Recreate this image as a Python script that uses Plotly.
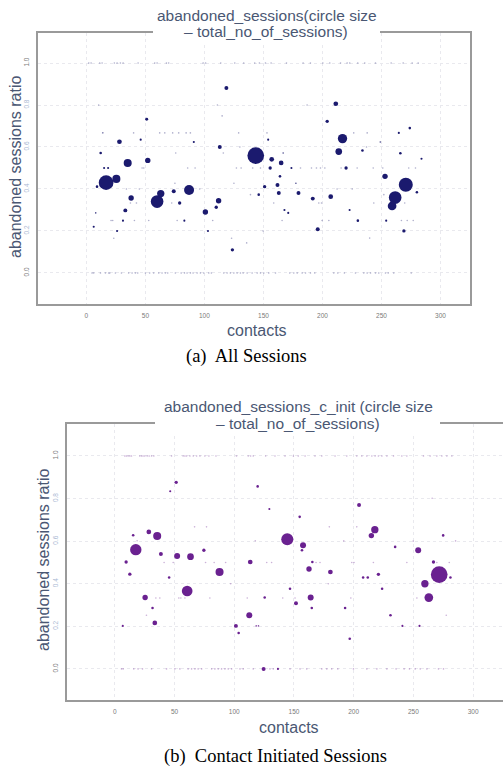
import plotly.graph_objects as go

W, H = 503, 768

# ---------------- (a) All Sessions ----------------
a_contacts = [118.6, 51.1, 28, 12.1, 35, 52, 15, 18.4, 16.7, 25.4, 9, 37.9, 33, 7.9, 6.2, 26, 23.2,
              59.9, 63, 74, 79, 87, 100.8, 103, 112, 110, 113, 123.7, 135.8, 123, 143.5, 157, 155.7,
              151, 146, 139, 83, 31, 46, 91, 154, 125, 75, 211.3, 204, 217, 213.8, 220, 233.9, 249,
              274, 264.7, 266, 283.9, 253, 270.6, 261.6, 259, 280, 269, 252, 254, 230, 240, 223, 207,
              196, 191.8, 179.7, 177.5, 163, 161.9, 164, 165, 173.7, 167.8, 171, 166.7, 187, 14, 10.4,
              75.7, 116, 115, 111]
a_ratio = [0.881, 0.732, 0.625, 0.571, 0.524, 0.536, 0.5, 0.5, 0.43, 0.448, 0.411, 0.357, 0.298, 0.286,
           0.22, 0.2, 0.165, 0.34, 0.378, 0.389, 0.333, 0.395, 0.29, 0.2, 0.344, 0.313, 0.6, 0.11, 0.143,
           0.165, 0.559, 0.541, 0.5, 0.411, 0.373, 0.373, 0.249, 0.249, 0.635, 0.624, 0.635, 0.427, 0.427,
           0.806, 0.722, 0.64, 0.578, 0.5, 0.583, 0.624, 0.69, 0.667, 0.57, 0.544, 0.46, 0.42, 0.359,
           0.319, 0.384, 0.2, 0.373, 0.249, 0.249, 0.166, 0.3, 0.363, 0.208, 0.354, 0.381, 0.427, 0.381,
           0.419, 0.46, 0.524, 0.5, 0.3, 0.286, 0.571, 0.8, 0.668, 0.8, 0.571, 0.571, 0.748, 0.8]
a_sessions = [14, 8, 20, 6, 58, 26, 4, 4, 194, 58, 6, 26, 14, 2, 4, 4, 1,
              144, 48, 14, 10, 90, 26, 4, 26, 10, 14, 10, 1, 1, 250, 20, 10,
              10, 6, 1, 4, 4, 4, 4, 4, 1, 1, 20, 10, 78, 40, 10, 6, 2,
              6, 4, 6, 4, 26, 176, 144, 68, 6, 10, 1, 4, 6, 1, 4, 20,
              14, 14, 14, 2, 14, 14, 6, 20, 4, 4, 4, 2, 1, 1, 1,
              1, 1, 1, 1]

# single-session contacts, grouped by their ratio
a_single_r100 = [2, 4, 11.3, 13.3, 23.7, 26, 28.8, 31.1, 43.8, 57.9, 59.9, 67.8, 69.7, 98.9, 101, 113.8,
                 125.7, 133.3, 142.6, 146.6, 151.7, 156.5, 169.5, 183.6, 189.8, 200.3, 206.2, 215.3,
                 220.9, 223.1, 229.9, 235.8, 244.9, 258.2, 268.4, 276, 281.1]
a_single_r000 = [4.8, 6.2, 11.9, 16.1, 18.9, 19.8, 24.6, 29.7, 35.8, 38.7, 41.5, 43.5, 50, 53.6, 57, 61.3,
                 64.1, 66.9, 68.9, 75.4, 80.3, 83.1, 85.3, 88.1, 90.4, 93.8, 96.6, 99.4, 103.7, 105.9,
                 116.4, 119.2, 122, 124.9, 127.7, 130.5, 132.8, 136.2, 140.4, 144.7, 147.5, 150.3, 154.5,
                 160.2, 172.3, 175.7, 178.6, 182.8, 185.6, 189.8, 193.5, 209.6, 213, 218.6, 228, 235,
                 237.9, 240.7, 244.9, 247.7, 253.4, 255.7, 260.4, 275.2]
a_single_r067 = [13.8, 40, 62.1, 66.4, 73.1, 78.2, 84.5, 88.1, 129, 153, 226.5, 237.9]
a_single_r050 = [47.2, 48.6, 85.8, 92.1, 127.1, 131.1, 140.9, 147.5, 181.4, 190.7, 194.9, 198.3, 202,
                 215.8, 229.4, 243, 251.1, 273.1, 278.8]
a_single_r033 = [37.3, 42.4, 72.3, 158.7, 196.9, 199.2, 243.5, 269.7]
a_single_r025 = [20.9, 22.3, 40.7, 52.8, 76.9, 107, 165.8, 199.7, 205.4, 266.9, 271.8, 276.9]
a_single_r040 = [33.9, 44.9, 96, 212.4, 225.2]
a_single_r060 = [130, 237.3]
a_single_r020 = [149.7]

# ---------------- (b) Contact Initiated Sessions ----------------
b_contacts = [51.4, 46.4, 119.6, 129.4, 15.4, 18.7, 28.5, 35.5, 17.6, 38.6, 52.2, 63.4, 74.6, 9.5, 12.6,
              45.5, 87.7, 97, 60.6, 25.4, 31.6, 26.5, 33.5, 6.7, 113.4, 117.6, 125.5, 112.6, 101.4,
              103.7, 118.4, 120.3, 124.6, 136.6, 265.7, 204.5, 154.8, 217.7, 214.8, 274.9, 285.3,
              144.4, 157.6, 156.7, 191.7, 234.7, 254, 249.8, 165.4, 266.8, 162.6, 180.5, 207.9, 211.8,
              220.7, 271.6, 281, 259.6, 262.9, 146.7, 178.8, 164, 151.7, 164.9, 192.8, 223.8, 230.8,
              240.8, 255.1, 196.7, 277.5]
b_ratio = [0.876, 0.834, 0.857, 0.751, 0.628, 0.602, 0.643, 0.624, 0.56, 0.54, 0.53, 0.527, 0.557, 0.502,
           0.445, 0.429, 0.455, 0.4, 0.366, 0.335, 0.286, 0.252, 0.216, 0.202, 0.502, 0.602, 0.335, 0.252,
           0.202, 0.169, 0.202, 0.202, 0.0, 0.0, 0.801, 0.77, 0.714, 0.654, 0.626, 0.627, 0.601,
           0.609, 0.581, 0.557, 0.601, 0.573, 0.557, 0.6, 0.502, 0.502, 0.469, 0.455, 0.429, 0.429,
           0.444, 0.443, 0.429, 0.4, 0.335, 0.376, 0.4, 0.335, 0.308, 0.286, 0.286, 0.376, 0.252,
           0.202, 0.202, 0.142, 0.252]
b_sessions = [10, 4, 6, 4, 6, 1, 20, 58, 116, 14, 32, 40, 10, 10, 10,
              6, 58, 1, 102, 26, 6, 1, 20, 4, 20, 1, 6, 32, 14,
              6, 2, 2, 14, 4, 1, 14, 6, 48, 26, 6, 1,
              130, 32, 6, 1, 6, 32, 1, 6, 10, 26, 20, 6, 6,
              10, 250, 6, 48, 68, 6, 1, 32, 14, 6, 6, 6, 6,
              4, 4, 6, 1]

b_single_r100 = [8.4, 9.8, 11.2, 12.6, 14, 20.9, 22.4, 23.7, 25.1, 27.1, 28.8, 30.8, 32.7, 47.5, 57.2,
                 58.7, 60.1, 62.9, 65.7, 68.5, 71.3, 75.4, 78.8, 84.7, 101.9, 111.7, 113.7, 115.9,
                 126.3, 134.1, 142.5, 149.5, 153.6, 159.3, 167.6, 173.3, 184.4, 194.2, 202.6, 206.8,
                 211, 215.2, 217.9, 220.7, 223.6, 227.8, 233.3, 240.3, 244.5, 258.4, 264, 269.6,
                 273.8, 278, 282.2]
b_single_r000 = [5.6, 7, 15.9, 19.5, 23.2, 30.8, 43.3, 50.3, 54.5, 61.4, 64.3, 67.1, 69.8, 72.7, 81.1,
                 83.8, 86.6, 89.4, 92.2, 95, 97.8, 104.8, 107.5, 115.9, 129.9, 132.7, 146.7, 155.1,
                 160.7, 173.3, 177.5, 181.6, 186.7, 199.8, 211, 219.4, 227.8, 235.5, 242.2, 246.7,
                 251.5, 255.7, 261.3, 271, 275.2]
b_single_r067 = [66.8, 76.8, 179.6, 202.6]
b_single_r050 = [41.3, 48.9, 76, 83.2, 92.8, 127.2, 131.3, 168.5, 171.8, 198.4, 200.3, 216.5, 244.5,
                 269.6, 280]
b_single_r033 = [34.4, 37.7, 53.6, 55.3, 58.7, 79.6, 110.9, 140.6, 150.9, 197.6, 252.9]

x_ticks = [0, 50, 100, 150, 200, 250, 300]
y_ticks = [0.0, 0.2, 0.4, 0.6, 0.8, 1.0]
y_ticktext = ["0.0", "0.2", "0.4", "0.6", "0.8", "1.0"]


def with_singles(cx, cy, cs, groups):
    xs, ys, ss = list(cx), list(cy), list(cs)
    for r, lst in groups:
        xs += lst
        ys += [r] * len(lst)
        ss += [1] * len(lst)
    return xs, ys, ss


ax, ay, asz = with_singles(a_contacts, a_ratio, a_sessions, [
    (1.0, a_single_r100), (0.0, a_single_r000), (0.667, a_single_r067), (0.5, a_single_r050),
    (0.333, a_single_r033), (0.25, a_single_r025), (0.4, a_single_r040), (0.6, a_single_r060),
    (0.2, a_single_r020)])
bx, by, bsz = with_singles(b_contacts, b_ratio, b_sessions, [
    (1.0, b_single_r100), (0.0, b_single_r000), (0.667, b_single_r067), (0.5, b_single_r050),
    (0.333, b_single_r033)])

SIZEREF = 2 * 250 / (16.7 ** 2)


def opac(sizes):
    return [0.35 if s <= 1 else (0.8 if s <= 2 else 1.0) for s in sizes]


fig = go.Figure()
fig.add_trace(go.Scatter(x=ax, y=ay, mode="markers", xaxis="x", yaxis="y",
                         marker=dict(size=asz, sizemode="area", sizeref=SIZEREF, sizemin=0.8,
                                     color="#1b1a6e", opacity=opac(asz), line=dict(width=0)),
                         showlegend=False))
fig.add_trace(go.Scatter(x=bx, y=by, mode="markers", xaxis="x2", yaxis="y2",
                         marker=dict(size=bsz, sizemode="area", sizeref=SIZEREF, sizemin=0.8,
                                     color="#6a2190", opacity=opac(bsz), line=dict(width=0)),
                         showlegend=False))

TITLE_C = "#4a5773"
TICK_C = "#7a7a7a"
ytick_html = ["<span style='color:#7a7a7a'>0.0</span>", "<span style='color:#a9b8d2'>0.2</span>",
              "<span style='color:#a9b8d2'>0.4</span>", "<span style='color:#a9b8d2'>0.6</span>",
              "<span style='color:#a9b8d2'>0.8</span>", "<span style='color:#7a7a7a'>1.0</span>"]

common_x = dict(tickvals=x_ticks, showgrid=True, gridcolor="#e9e9ee", griddash="dot", gridwidth=1,
                showline=True, mirror=True, linecolor="#9a9a9a", linewidth=1.5, zeroline=False,
                ticks="", tickfont=dict(size=6.5, color=TICK_C, family="Liberation Sans"),
                ticklabelstandoff=4, fixedrange=True)
common_y = dict(tickvals=y_ticks, ticktext=ytick_html, tickangle=-90, showgrid=True,
                gridcolor="#e9e9ee", griddash="dot", gridwidth=1,
                showline=True, linecolor="#9a9a9a", linewidth=1.5, zeroline=False,
                ticks="", tickfont=dict(size=6.5, color=TICK_C, family="Liberation Sans"),
                ticklabelstandoff=5, fixedrange=True)


def px(v):
    return v / W


def py(v):
    return 1 - v / H


fig.update_layout(
    width=W, height=H, autosize=False, margin=dict(l=0, r=0, t=0, b=0),
    paper_bgcolor="white", plot_bgcolor="white",
    font=dict(family="Liberation Sans, Arial, sans-serif"),
    xaxis=dict(domain=[px(38), px(470)], range=[-41, 325], anchor="y", **common_x),
    yaxis=dict(domain=[py(304), py(33)], range=[-0.148, 1.143], anchor="x", mirror=True, **common_y),
    xaxis2=dict(domain=[px(67), 1.0], range=[-40, 325], anchor="y2", **common_x),
    yaxis2=dict(domain=[py(700), py(424)], range=[-0.146, 1.15], anchor="x2", mirror=False, **common_y),
)

shapes = [
    dict(type="rect", xref="paper", yref="paper", x0=px(153), x1=px(380), y0=py(42), y1=py(2),
         fillcolor="white", line=dict(width=0), layer="above"),
    dict(type="rect", xref="paper", yref="paper", x0=px(155), x1=px(440), y0=py(434), y1=py(395),
         fillcolor="white", line=dict(width=0), layer="above"),
]
fig.update_layout(shapes=shapes)

ann = []


def text(x, y, s, size, color, family="Liberation Sans, Arial, sans-serif", angle=0):
    ann.append(dict(x=px(x), y=py(y), xref="paper", yref="paper", text=s, showarrow=False,
                    xanchor="center", yanchor="middle", textangle=angle,
                    font=dict(size=size, color=color, family=family)))


text(267, 15, "abandoned_sessions(circle size", 15.5, TITLE_C)
text(266, 32, "– total_no_of_sessions)", 15.5, TITLE_C)
text(298, 406, "abandoned_sessions_c_init (circle size", 15.5, TITLE_C)
text(297.5, 423, "– total_no_of_sessions)", 15.5, TITLE_C)

text(16, 167, "abandoned sessions ratio", 16, TITLE_C, angle=-90)
text(43, 560, "abandoned sessions ratio", 16, TITLE_C, angle=-90)
text(257, 330, "contacts", 16, TITLE_C)
text(289, 727, "contacts", 16, TITLE_C)

text(246, 356, "(a)  All Sessions", 18.5, "black", family="Liberation Serif, Times New Roman, serif")
text(275, 756, "(b)  Contact Initiated Sessions", 18.5, "black",
     family="Liberation Serif, Times New Roman, serif")

fig.update_layout(annotations=ann)

fig.write_html("out.html", config={"displayModeBar": False})
